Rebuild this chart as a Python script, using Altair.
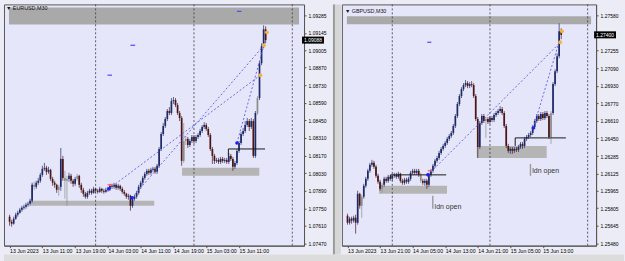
import altair as alt
import pandas as pd

FONT = "Liberation Sans, sans-serif"
FONT2 = "Liberation Sans, sans-serif"

# ---------------- EURUSD M30 (13 Jun 03:00 .. 15 Jun 17:30) ----------------
eur_open = [1.07683, 1.07643, 1.07628, 1.07667, 1.07699, 1.07715, 1.07739, 1.07754, 1.07762, 1.07778,
            1.07786, 1.07810, 1.07937, 1.07921, 1.07953, 1.07969, 1.08016, 1.08064, 1.08072, 1.08040,
            1.08056, 1.07984, 1.07953, 1.07937, 1.07897, 1.07921, 1.08143, 1.07992, 1.07969, 1.07984,
            1.08008, 1.07969, 1.07945, 1.07984, 1.08008, 1.07937, 1.07897, 1.07866, 1.07842, 1.07873,
            1.07889, 1.07873, 1.07905, 1.07889, 1.07881, 1.07905, 1.07889, 1.07881, 1.07897, 1.07905,
            1.07929, 1.07921, 1.07937, 1.07913, 1.07929, 1.07905, 1.07881, 1.07866, 1.07842, 1.07850,
            1.07770, 1.07826, 1.07842, 1.07873, 1.07921, 1.07953, 1.07992, 1.08024, 1.08048, 1.08032,
            1.08056, 1.08064, 1.08040, 1.08088, 1.08222, 1.08341, 1.08405, 1.08460, 1.08524, 1.08508,
            1.08603, 1.08611, 1.08571, 1.08508, 1.08468, 1.08127, 1.08286, 1.08302, 1.08254, 1.08286,
            1.08318, 1.08286, 1.08318, 1.08333, 1.08365, 1.08397, 1.08413, 1.08381, 1.08333, 1.08222,
            1.08167, 1.08127, 1.08135, 1.08119, 1.08143, 1.08127, 1.08135, 1.08119, 1.08167, 1.08143,
            1.08080, 1.08111, 1.08206, 1.08270, 1.08341, 1.08365, 1.08413, 1.08444, 1.08397, 1.08444,
            1.08167, 1.08508, 1.08627, 1.08904, 1.09039, 1.09174]
eur_high = [1.07699, 1.07659, 1.07683, 1.07715, 1.07731, 1.07754, 1.07770, 1.07778, 1.07794, 1.07802,
            1.07826, 1.07953, 1.07961, 1.07969, 1.07992, 1.08032, 1.08088, 1.08111, 1.08088, 1.08080,
            1.08064, 1.08000, 1.07969, 1.07945, 1.07937, 1.08230, 1.08167, 1.08048, 1.08008, 1.08032,
            1.08024, 1.07984, 1.08000, 1.08024, 1.08016, 1.07953, 1.07913, 1.07881, 1.07889, 1.07905,
            1.07905, 1.07921, 1.07913, 1.07905, 1.07921, 1.07913, 1.07905, 1.07913, 1.07921, 1.07945,
            1.07945, 1.07953, 1.07945, 1.07945, 1.07937, 1.07921, 1.07897, 1.07873, 1.07866, 1.07858,
            1.07842, 1.07858, 1.07889, 1.07937, 1.07969, 1.08008, 1.08040, 1.08064, 1.08064, 1.08072,
            1.08080, 1.08080, 1.08103, 1.08238, 1.08357, 1.08429, 1.08476, 1.08540, 1.08555, 1.08627,
            1.08635, 1.08627, 1.08587, 1.08524, 1.08484, 1.08429, 1.08325, 1.08318, 1.08302, 1.08333,
            1.08333, 1.08333, 1.08349, 1.08381, 1.08413, 1.08436, 1.08429, 1.08397, 1.08349, 1.08238,
            1.08183, 1.08151, 1.08151, 1.08159, 1.08159, 1.08151, 1.08151, 1.08191, 1.08183, 1.08159,
            1.08127, 1.08222, 1.08286, 1.08357, 1.08389, 1.08444, 1.08468, 1.08460, 1.08468, 1.08460,
            1.08524, 1.08643, 1.08920, 1.09063, 1.09206, 1.09198]
eur_low = [1.07612, 1.07604, 1.07620, 1.07659, 1.07683, 1.07707, 1.07723, 1.07739, 1.07747, 1.07762,
           1.07770, 1.07794, 1.07897, 1.07905, 1.07937, 1.07953, 1.08000, 1.08048, 1.08016, 1.08024,
           1.07969, 1.07929, 1.07913, 1.07873, 1.07850, 1.07889, 1.07969, 1.07826, 1.07770, 1.07961,
           1.07945, 1.07921, 1.07929, 1.07969, 1.07913, 1.07873, 1.07842, 1.07826, 1.07826, 1.07858,
           1.07858, 1.07866, 1.07873, 1.07866, 1.07873, 1.07873, 1.07866, 1.07873, 1.07881, 1.07889,
           1.07905, 1.07905, 1.07897, 1.07897, 1.07889, 1.07866, 1.07850, 1.07826, 1.07818, 1.07731,
           1.07754, 1.07810, 1.07826, 1.07858, 1.07905, 1.07937, 1.07977, 1.08008, 1.08016, 1.08016,
           1.08040, 1.08024, 1.08024, 1.08072, 1.08206, 1.08325, 1.08389, 1.08444, 1.08492, 1.08492,
           1.08579, 1.08555, 1.08492, 1.08444, 1.08088, 1.08111, 1.08254, 1.08230, 1.08238, 1.08270,
           1.08262, 1.08270, 1.08302, 1.08318, 1.08349, 1.08381, 1.08365, 1.08318, 1.08206, 1.08103,
           1.08103, 1.08111, 1.08103, 1.08103, 1.08111, 1.08111, 1.08103, 1.08103, 1.08127, 1.08048,
           1.08064, 1.08095, 1.08191, 1.08254, 1.08325, 1.08349, 1.08397, 1.08365, 1.08381, 1.08151,
           1.08151, 1.08492, 1.08611, 1.08888, 1.09023, 1.09063]
eur_close = [1.07643, 1.07628, 1.07667, 1.07699, 1.07715, 1.07739, 1.07754, 1.07762, 1.07778, 1.07786,
             1.07810, 1.07937, 1.07921, 1.07953, 1.07969, 1.08016, 1.08064, 1.08072, 1.08040, 1.08056,
             1.07984, 1.07953, 1.07937, 1.07897, 1.07921, 1.08143, 1.07992, 1.07969, 1.07984, 1.08008,
             1.07969, 1.07945, 1.07984, 1.08008, 1.07937, 1.07897, 1.07866, 1.07842, 1.07873, 1.07889,
             1.07873, 1.07905, 1.07889, 1.07881, 1.07905, 1.07889, 1.07881, 1.07897, 1.07905, 1.07929,
             1.07921, 1.07937, 1.07913, 1.07929, 1.07905, 1.07881, 1.07866, 1.07842, 1.07850, 1.07770,
             1.07826, 1.07842, 1.07873, 1.07921, 1.07953, 1.07992, 1.08024, 1.08048, 1.08032, 1.08056,
             1.08064, 1.08040, 1.08088, 1.08222, 1.08341, 1.08405, 1.08460, 1.08524, 1.08508, 1.08603,
             1.08611, 1.08571, 1.08508, 1.08468, 1.08127, 1.08286, 1.08302, 1.08254, 1.08286, 1.08318,
             1.08286, 1.08318, 1.08333, 1.08365, 1.08397, 1.08413, 1.08381, 1.08333, 1.08222, 1.08167,
             1.08127, 1.08135, 1.08119, 1.08143, 1.08127, 1.08135, 1.08119, 1.08167, 1.08143, 1.08080,
             1.08111, 1.08206, 1.08270, 1.08341, 1.08365, 1.08413, 1.08444, 1.08397, 1.08444, 1.08167,
             1.08508, 1.08627, 1.08904, 1.09039, 1.09174, 1.09088]
eur_gray = [12, 24, 27, 28, 33, 85, 86, 121]
eur_yticks = [1.09285, 1.09145, 1.09005, 1.08870, 1.08730, 1.08590, 1.08450,
              1.08310, 1.08170, 1.08030, 1.07890, 1.07750, 1.07610, 1.07470]
eur_xtick_idx = [0, 16, 32, 48, 64, 80, 96, 112]
eur_xtick_text = ["13 Jun 2023", "13 Jun 11:00", "13 Jun 19:00", "14 Jun 03:00",
                  "14 Jun 11:00", "14 Jun 19:00", "15 Jun 03:00", "15 Jun 11:00"]
eur_day_sep = [42, 90, 138]
eur_last = 1.09088
eur_band = [(-0.3, 141.3, 1.09213, 1.09348)]
eur_zones = [(10.4, 70.6, 1.07770, 1.07810), (84.2, 121.9, 1.08008, 1.08072)]
eur_hlines = [(106.8, 124.7, 1.08222)]
eur_vticks = [(106.8, 1.08167, 1.08222)]
eur_lines = [(48.5, 1.07905, 122.4, 1.08809), (59.8, 1.07834, 124.2, 1.09047), (111.0, 1.08270, 124.7, 1.09079)]
eur_bdots = [(48.5, 1.07905), (59.8, 1.07834), (111.0, 1.08270)]
eur_odots = [(122.4, 1.08809), (124.2, 1.09047), (125.6, 1.09150)]
eur_bdash = [(47.8, 50.0, 1.08809), (59.0, 61.3, 1.09047), (111.0, 113.2, 1.09317)]
eur_rdash = [(47.8, 50.0, 1.07937)]
eur_ldn = []

# ---------------- GBPUSD M30 (13 Jun 13:00 .. 15 Jun 17:30) ----------------
gbp_open = [1.25736, 1.25672, 1.25709, 1.25691, 1.25718, 1.25672, 1.25938, 1.25828, 1.25911, 1.26012,
            1.26076, 1.26149, 1.26204, 1.26223, 1.26186, 1.26103, 1.26048, 1.25984, 1.26021, 1.26076,
            1.26057, 1.26094, 1.26076, 1.26103, 1.26112, 1.26094, 1.26122, 1.26057, 1.26039, 1.26067,
            1.26048, 1.26076, 1.26131, 1.26149, 1.26131, 1.26149, 1.26112, 1.26057, 1.26039, 1.26057,
            1.26021, 1.26112, 1.26149, 1.26195, 1.26241, 1.26268, 1.26314, 1.26351, 1.26378, 1.26406,
            1.26443, 1.26470, 1.26498, 1.26562, 1.26653, 1.26764, 1.26837, 1.26901, 1.26938, 1.26956,
            1.26929, 1.26947, 1.26938, 1.26837, 1.26626, 1.26369, 1.26589, 1.26653, 1.26608, 1.26626,
            1.26598, 1.26635, 1.26617, 1.26663, 1.26681, 1.26699, 1.26718, 1.26681, 1.26562, 1.26378,
            1.26333, 1.26351, 1.26333, 1.26351, 1.26342, 1.26369, 1.26397, 1.26378, 1.26443, 1.26461,
            1.26479, 1.26498, 1.26553, 1.26608, 1.26653, 1.26626, 1.26672, 1.26635, 1.26681, 1.26653,
            1.26461, 1.26681, 1.26947, 1.27066, 1.27204, 1.27433]
gbp_high = [1.25755, 1.25727, 1.25727, 1.25736, 1.25746, 1.25966, 1.25947, 1.25929, 1.26030, 1.26094,
            1.26167, 1.26223, 1.26250, 1.26241, 1.26204, 1.26122, 1.26067, 1.26039, 1.26094, 1.26094,
            1.26112, 1.26112, 1.26122, 1.26131, 1.26131, 1.26140, 1.26131, 1.26076, 1.26085, 1.26085,
            1.26094, 1.26149, 1.26167, 1.26167, 1.26167, 1.26167, 1.26131, 1.26076, 1.26076, 1.26076,
            1.26131, 1.26167, 1.26213, 1.26259, 1.26287, 1.26333, 1.26369, 1.26397, 1.26424, 1.26461,
            1.26488, 1.26516, 1.26580, 1.26672, 1.26782, 1.26855, 1.26919, 1.26956, 1.26984, 1.26974,
            1.26965, 1.26974, 1.26956, 1.26855, 1.26644, 1.26608, 1.26672, 1.26672, 1.26644, 1.26644,
            1.26653, 1.26653, 1.26681, 1.26699, 1.26718, 1.26745, 1.26736, 1.26699, 1.26580, 1.26397,
            1.26369, 1.26369, 1.26369, 1.26369, 1.26388, 1.26415, 1.26415, 1.26461, 1.26479, 1.26498,
            1.26516, 1.26571, 1.26626, 1.26672, 1.26672, 1.26690, 1.26690, 1.26699, 1.26699, 1.26672,
            1.26699, 1.26965, 1.27084, 1.27231, 1.27506, 1.27460]
gbp_low = [1.25654, 1.25654, 1.25663, 1.25672, 1.25571, 1.25654, 1.25801, 1.25718, 1.25892, 1.25993,
           1.26057, 1.26131, 1.26186, 1.26167, 1.26085, 1.26030, 1.25966, 1.25947, 1.26002, 1.26039,
           1.26039, 1.26057, 1.26057, 1.26085, 1.26076, 1.26076, 1.26039, 1.26021, 1.26021, 1.26030,
           1.26030, 1.26057, 1.26112, 1.26112, 1.26112, 1.26094, 1.26039, 1.26021, 1.26012, 1.25984,
           1.26002, 1.26094, 1.26131, 1.26177, 1.26223, 1.26250, 1.26296, 1.26333, 1.26360, 1.26388,
           1.26424, 1.26452, 1.26479, 1.26543, 1.26635, 1.26745, 1.26819, 1.26883, 1.26919, 1.26910,
           1.26910, 1.26919, 1.26819, 1.26608, 1.26268, 1.26351, 1.26571, 1.26589, 1.26452, 1.26580,
           1.26580, 1.26598, 1.26598, 1.26644, 1.26663, 1.26681, 1.26663, 1.26543, 1.26360, 1.26314,
           1.26305, 1.26305, 1.26314, 1.26323, 1.26323, 1.26351, 1.26351, 1.26360, 1.26424, 1.26443,
           1.26461, 1.26479, 1.26534, 1.26589, 1.26608, 1.26608, 1.26617, 1.26617, 1.26635, 1.26443,
           1.26397, 1.26663, 1.26929, 1.27048, 1.27185, 1.27360]
gbp_close = [1.25672, 1.25709, 1.25691, 1.25718, 1.25672, 1.25938, 1.25828, 1.25911, 1.26012, 1.26076,
             1.26149, 1.26204, 1.26223, 1.26186, 1.26103, 1.26048, 1.25984, 1.26021, 1.26076, 1.26057,
             1.26094, 1.26076, 1.26103, 1.26112, 1.26094, 1.26122, 1.26057, 1.26039, 1.26067, 1.26048,
             1.26076, 1.26131, 1.26149, 1.26131, 1.26149, 1.26112, 1.26057, 1.26039, 1.26057, 1.26021,
             1.26112, 1.26149, 1.26195, 1.26241, 1.26268, 1.26314, 1.26351, 1.26378, 1.26406, 1.26443,
             1.26470, 1.26498, 1.26562, 1.26653, 1.26764, 1.26837, 1.26901, 1.26938, 1.26956, 1.26929,
             1.26947, 1.26938, 1.26837, 1.26626, 1.26369, 1.26589, 1.26653, 1.26608, 1.26626, 1.26598,
             1.26635, 1.26617, 1.26663, 1.26681, 1.26699, 1.26718, 1.26681, 1.26562, 1.26378, 1.26333,
             1.26351, 1.26333, 1.26351, 1.26342, 1.26369, 1.26397, 1.26378, 1.26443, 1.26461, 1.26479,
             1.26498, 1.26553, 1.26608, 1.26653, 1.26626, 1.26672, 1.26635, 1.26681, 1.26653, 1.26461,
             1.26681, 1.26947, 1.27066, 1.27204, 1.27433, 1.27400]
gbp_gray = [7, 17, 36, 68, 100]
gbp_yticks = [1.27580, 1.27255, 1.27090, 1.26930, 1.26770, 1.26610, 1.26450,
              1.26285, 1.26125, 1.25965, 1.25805, 1.25645, 1.25480]
gbp_xtick_idx = [0, 16, 32, 48, 64, 80, 96]
gbp_xtick_text = ["13 Jun 2023", "13 Jun 21:00", "14 Jun 05:00", "14 Jun 13:00",
                  "14 Jun 21:00", "15 Jun 05:00", "15 Jun 13:00"]
gbp_day_sep = [22, 70, 118]
gbp_last = 1.27400
gbp_band = [(-0.3, 119.7, 1.27497, 1.27570)]
gbp_zones = [(15.5, 48.9, 1.25938, 1.26012), (63.5, 97.9, 1.26268, 1.26378)]
gbp_hlines = [(21.2, 48.5, 1.26112), (82.4, 107.3, 1.26452)]
gbp_vticks = [(21.2, 1.26076, 1.26112), (82.4, 1.26378, 1.26452)]
gbp_lines = [(39.5, 1.26112, 104.2, 1.27323), (91.3, 1.26543, 103.8, 1.27323)]
gbp_bdots = [(39.5, 1.26112), (91.3, 1.26543)]
gbp_odots = [(104.5, 1.27332), (105.4, 1.27433)]
gbp_bdash = [(39.2, 41.2, 1.27332)]
gbp_rdash = [(39.4, 41.4, 1.26149)]
gbp_ldn = [(41.9, 1.25801, 1.25920, 1.25819), (89.9, 1.26103, 1.26213, 1.26149)]

BOX = "M-1,-0.32L1,-0.32L1,0.32L-1,0.32Z"


def panel(o, h, l, c, gray, W, H, xdom, ydom, yticks, xt_idx, xt_text, seps,
          band, zones, hlines, vticks, lines, bdots, odots, bdash, rdash, ldn,
          last, title, tx, ty, deco):
    xs = alt.Scale(domain=xdom, nice=False, zero=False)
    ys = alt.Scale(domain=ydom, nice=False, zero=False)
    lab = "[" + ",".join("'%s'" % t for t in xt_text) + "][round(datum.value/16)]"
    xaxis = alt.Axis(values=xt_idx, labelExpr=lab, title=None, grid=False, labelAlign="left",
                     labelFlush=False, labelOverlap=False, labelPadding=1, tickSize=2,
                     labelFont=FONT, labelFontSize=5.2, labelColor="#000",
                     domainColor="#555", tickColor="#555")
    yaxis = alt.Axis(orient="right", values=yticks, format=".5f", title=None, grid=False,
                     labelPadding=2, tickSize=2, labelFont=FONT, labelFontSize=5.0,
                     labelColor="#000", domainColor="#555", tickColor="#555",
                     labelOverlap=False, labelFlush=False)

    def X(f):
        return alt.X(f, type="quantitative", scale=xs, axis=xaxis)

    def Y(f):
        return alt.Y(f, type="quantitative", scale=ys, axis=yaxis)

    n = len(o)
    kind = ["gray" if i in gray else ("up" if c[i] >= o[i] else "down") for i in range(n)]
    df = pd.DataFrame({"i": list(range(n)), "o": o, "h": h, "l": l, "c": c, "k": kind})

    rect_rows = [dict(x1=a, x2=b, y1=p, y2=q, col="#a9a9a9") for a, b, p, q in band]
    rect_rows += [dict(x1=a, x2=b, y1=p, y2=q, col="#b5b5b5") for a, b, p, q in zones]
    rects = alt.Chart(pd.DataFrame(rect_rows)).mark_rect().encode(
        x=X("x1"), x2="x2", y=Y("y1"), y2="y2", color=alt.Color("col:N", scale=None))

    sep = alt.Chart(pd.DataFrame({"s": seps})).mark_rule(
        strokeDash=[2, 2], color="#3a3a3a", strokeWidth=0.8).encode(x=X("s"))

    wick = alt.Chart(df).mark_rule(strokeWidth=0.7).encode(
        x=X("i"), y=Y("l"), y2="h",
        color=alt.Color("k:N", scale=alt.Scale(domain=["up", "down", "gray"],
                                              range=["#1e2a66", "#4a1515", "#8c8c8c"]), legend=None))
    body = alt.Chart(df).mark_bar(width=1.7).encode(
        x=X("i"), y=Y("o"), y2="c",
        color=alt.Color("k:N", scale=alt.Scale(domain=["up", "down", "gray"],
                                              range=["#2a4fb8", "#a82020", "#b0b0b0"]), legend=None))

    hl = alt.Chart(pd.DataFrame([dict(x1=a, x2=b, y=p) for a, b, p in hlines])).mark_rule(
        color="#1a1a1a", strokeWidth=1).encode(x=X("x1"), x2="x2", y=Y("y"))
    vt = alt.Chart(pd.DataFrame([dict(x=a, y1=p, y2=q) for a, p, q in vticks])).mark_rule(
        color="#1a1a1a", strokeWidth=1).encode(x=X("x"), y=Y("y1"), y2="y2")

    lrows = []
    for k, (a, p, b, q) in enumerate(lines):
        lrows += [dict(id=k, x=a, y=p), dict(id=k, x=b, y=q)]
    ln = alt.Chart(pd.DataFrame(lrows)).mark_line(
        strokeDash=[2, 2], color="#5a5af2", strokeWidth=0.9).encode(
        x=X("x"), y=Y("y"), detail="id:N")

    bd = alt.Chart(pd.DataFrame([dict(x=a, y=p) for a, p in bdots])).mark_circle(
        size=13, color="#1e1eff", opacity=1).encode(x=X("x"), y=Y("y"))
    od = alt.Chart(pd.DataFrame([dict(x=a, y=p) for a, p in odots])).mark_circle(
        size=15, color="#f2b43c", opacity=1).encode(x=X("x"), y=Y("y"))
    bdl = alt.Chart(pd.DataFrame([dict(x1=a, x2=b, y=p) for a, b, p in bdash])).mark_rule(
        color="#4a4aff", strokeWidth=1.2).encode(x=X("x1"), x2="x2", y=Y("y"))
    rdl = alt.Chart(pd.DataFrame([dict(x1=a, x2=b, y=p) for a, b, p in rdash])).mark_rule(
        color="#ff5a5a", strokeWidth=1.2).encode(x=X("x1"), x2="x2", y=Y("y"))

    layers = [rects, sep, wick, body, hl, vt, ln, bd, od, bdl, rdl]

    if ldn:
        ldf = pd.DataFrame([dict(x=a, y1=p, y2=q, ty=t, tx=a + 0.9, t="ldn open") for a, p, q, t in ldn])
        layers.append(alt.Chart(ldf).mark_rule(color="#9a9a9a", strokeWidth=1.4).encode(
            x=X("x"), y=Y("y1"), y2="y2"))
        layers.append(alt.Chart(ldf).mark_text(align="left", baseline="middle", font=FONT2,
                                               fontSize=7, color="#333333").encode(
            x=X("tx"), y=Y("ty"), text="t:N"))

    tdf = pd.DataFrame({"t": [title]})
    layers.append(alt.Chart(tdf).mark_text(align="left", baseline="middle", font=FONT,
                                           fontSize=5.4, color="#111").encode(
        x=alt.value(tx), y=alt.value(ty), text="t:N"))

    pdf = pd.DataFrame({"p": [last], "s": ["%.5f" % last]})
    layers.append(alt.Chart(pdf).mark_point(shape=BOX, size=484, filled=True, color="#000",
                                            opacity=1).encode(x=alt.value(W + 9), y=Y("p")))
    layers.append(alt.Chart(pdf).mark_text(align="center", baseline="middle", font=FONT,
                                           fontSize=5.0, color="#fff").encode(
        x=alt.value(W + 9), y=Y("p"), text="s:N"))

    for (x1, x2, y1, y2, col) in deco:
        layers.insert(0, alt.Chart(pd.DataFrame({"d": [0]})).mark_rect(color=col).encode(
            x=alt.value(x1), x2=alt.value(x2), y=alt.value(y1), y2=alt.value(y2)))

    return alt.layer(*layers).properties(width=W, height=H)


W1, W2, H = 301, 255, 242
left = panel(eur_open, eur_high, eur_low, eur_close, eur_gray, W1, H, [-0.3, 141.3], [1.07453, 1.09372],
             eur_yticks, eur_xtick_idx, eur_xtick_text, eur_day_sep, eur_band, eur_zones,
             eur_hlines, eur_vticks, eur_lines, eur_bdots, eur_odots, eur_bdash, eur_rdash, eur_ldn,
             eur_last, "\u25BC EURUSD,M30", 2, 4,
             [(0, 622, 251, 258, "#dcdcdc"),
              (W1 + 29, W1 + 31, 0, 251, "#9a9a9a"), (W1 + 31, W1 + 37, 0, 251, "#d6d6d6")])
right = panel(gbp_open, gbp_high, gbp_low, gbp_close, gbp_gray, W2, H, [-0.3, 119.7], [1.25461, 1.27680],
              gbp_yticks, gbp_xtick_idx, gbp_xtick_text, gbp_day_sep, gbp_band, gbp_zones,
              gbp_hlines, gbp_vticks, gbp_lines, gbp_bdots, gbp_odots, gbp_bdash, gbp_rdash, gbp_ldn,
              gbp_last, "\u25BC GBPUSD,M30", 3, 7, [])

chart = alt.hconcat(left, right, spacing=38, bounds="flush").properties(
    padding={"left": 3, "top": 3, "right": 0, "bottom": 0},
    background="#ececf6",
).configure_view(fill="#e6e6fa", stroke="#5a5a5a", strokeWidth=1)

chart.save("out.html", embed_options={"renderer": "svg", "actions": False})
